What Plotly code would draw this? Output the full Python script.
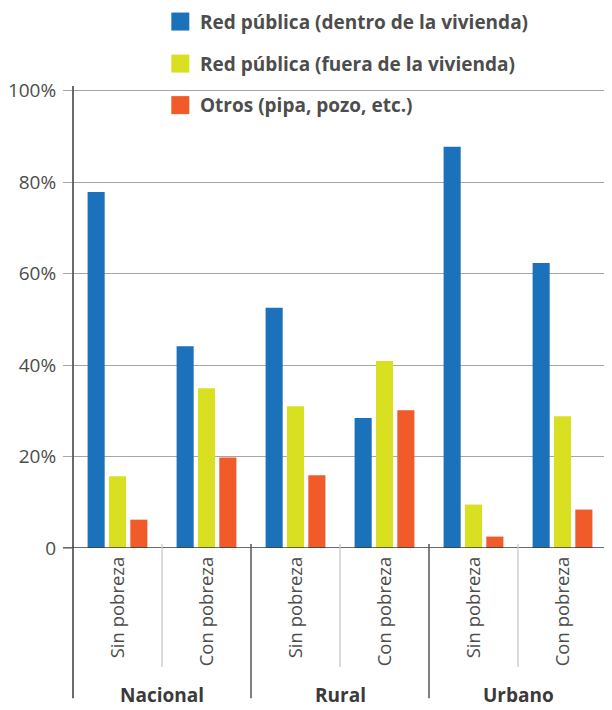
import plotly.graph_objects as go

# ---------------- data ----------------
subcategories = ["Sin pobreza", "Con pobreza", "Sin pobreza", "Con pobreza", "Sin pobreza", "Con pobreza"]
groups = ["Nacional", "Rural", "Urbano"]
series_names = [
    "Red pública (dentro de la vivienda)",
    "Red pública (fuera de la vivienda)",
    "Otros (pipa, pozo, etc.)",
]
dentro = [77.8, 44.1, 52.5, 28.4, 87.7, 62.3]
fuera = [15.7, 34.9, 31.0, 40.9, 9.5, 28.8]
otros = [6.2, 19.8, 15.9, 30.1, 2.5, 8.4]
y_tick_values = [0, 20, 40, 60, 80, 100]
y_tick_labels = ["0", "20%", "40%", "60%", "80%", "100%"]

# ---------------- style ----------------
colors = ["#1c71bb", "#d9e021", "#f15a29"]
OFF = 8  # default page body margin offset
WIN_W, WIN_H = 612, 710
W, H = WIN_W - OFF, WIN_H - OFF
PLOT_LEFT, PLOT_TOP, PLOT_BOTTOM = 72.6, 86.4, 548
L = PLOT_LEFT - OFF
T = PLOT_TOP - OFF
B = WIN_H - PLOT_BOTTOM
R = 0
plot_w = W - L - R
plot_h = H - T - B
FONT = "Open Sans"
GRAY = "#4d4d4d"
DARK = "#3a3a3a"


def px_x(px):
    return (px - PLOT_LEFT) / plot_w


def px_y(py):
    return (PLOT_BOTTOM - py) / plot_h


x = list(range(len(subcategories)))
fig = go.Figure()
for name, vals, col in zip(series_names, [dentro, fuera, otros], colors):
    fig.add_trace(go.Bar(x=x, y=vals, name=name, marker=dict(color=col, line=dict(width=0)),
                         showlegend=False, hoverinfo="y+name"))

shapes = []
annotations = []

# y axis line (extends below plot into label area)
shapes.append(dict(type="line", xref="paper", yref="paper", x0=0, x1=0,
                   y0=px_y(698), y1=1, line=dict(color=DARK, width=1.5)))
# zero baseline extending left as a tick
shapes.append(dict(type="line", xref="paper", yref="y", x0=px_x(62.5), x1=1,
                   y0=0, y1=0, line=dict(color=DARK, width=1.5)))
# minor separators between subcategories
for xs in [0.5, 2.5, 4.5]:
    shapes.append(dict(type="line", xref="x", yref="paper", x0=xs, x1=xs,
                       y0=px_y(667), y1=px_y(544), line=dict(color="#c8c8c8", width=1.3)))
# major separators between groups
for xs in [1.5, 3.5, 5.5]:
    shapes.append(dict(type="line", xref="x", yref="paper", x0=xs, x1=xs,
                       y0=px_y(698), y1=px_y(544), line=dict(color="#555555", width=1.5)))
# group labels
for i, g in enumerate(groups):
    annotations.append(dict(text="<b>%s</b>" % g, x=2 * i + 0.5, xref="x", y=px_y(710), yref="paper",
                            showarrow=False, font=dict(family=FONT, size=19, color=DARK),
                            xanchor="center", yanchor="bottom"))
# legend (custom)
leg_rows = [22, 64, 105.5]
for name, col, cy in zip(series_names, colors, leg_rows):
    shapes.append(dict(type="rect", xref="paper", yref="paper", x0=px_x(171), x1=px_x(189),
                       y0=px_y(cy + 9), y1=px_y(cy - 9), fillcolor=col, line=dict(width=0)))
    annotations.append(dict(text="<b>%s</b>" % name, x=px_x(198), xref="paper", y=px_y(cy), yref="paper",
                            showarrow=False, font=dict(family=FONT, size=19, color=GRAY),
                            xanchor="left", yanchor="middle"))

fig.update_layout(
    width=W, height=H,
    margin=dict(l=L, r=R, t=T, b=B, pad=0),
    paper_bgcolor="white", plot_bgcolor="white",
    barmode="group", bargap=0.28, bargroupgap=0.2,
    shapes=shapes, annotations=annotations,
    font=dict(family=FONT, color=GRAY),
    xaxis=dict(
        tickmode="array", tickvals=x, ticktext=subcategories,
        tickangle=-90, ticks="", showgrid=False, zeroline=False, showline=False,
        range=[-0.5, 5.5 + 5 / 89.07],
        tickfont=dict(family=FONT, size=18.5, color=GRAY),
        ticklabelstandoff=4,
    ),
    yaxis=dict(
        range=[0, 101], tickmode="array", tickvals=y_tick_values, ticktext=y_tick_labels,
        showgrid=True, gridcolor="#a6a6a6", gridwidth=1.2, zeroline=False, showline=False,
        ticks="outside", ticklen=9, tickcolor="#a6a6a6", tickwidth=1.2,
        tickfont=dict(family=FONT, size=19, color=GRAY),
        ticklabelstandoff=3,
    ),
)

fig.write_html("out.html")
